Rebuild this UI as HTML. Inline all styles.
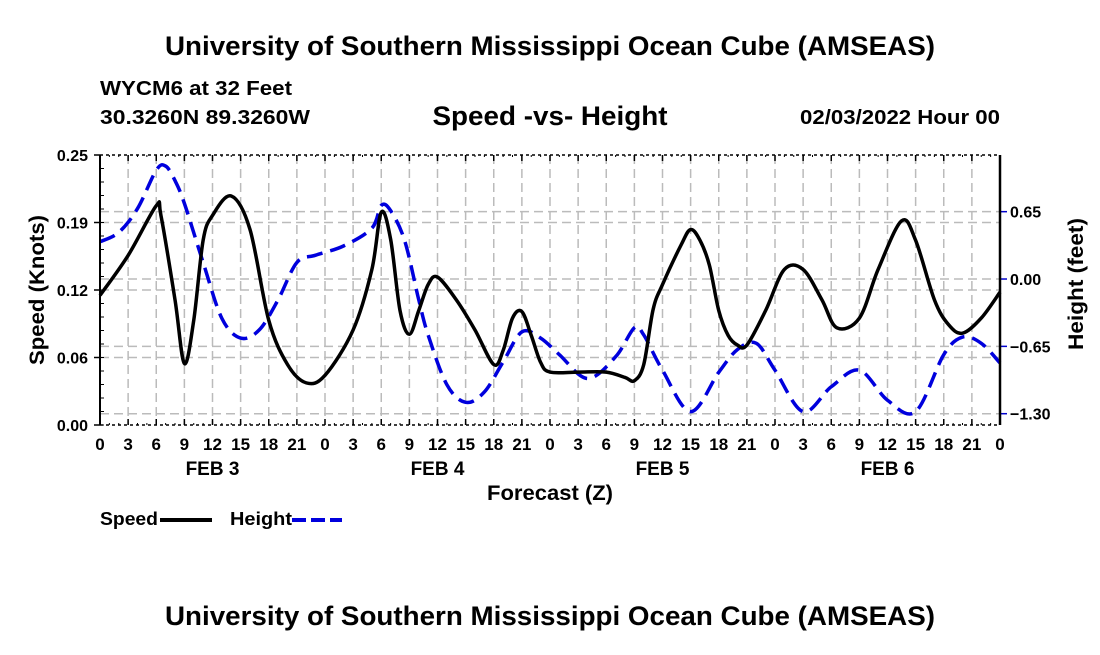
<!DOCTYPE html>
<html><head><meta charset="utf-8"><style>
body{margin:0;background:#fff}
svg text{font-family:"Liberation Sans",Arial,sans-serif;font-weight:bold;fill:#000}
</style></head><body>
<svg id="chart" width="1100" height="650" viewBox="0 0 1100 650" xmlns="http://www.w3.org/2000/svg">
<rect width="1100" height="650" fill="#fff"/>
<text x="550" y="55" font-size="27" text-anchor="middle" textLength="770" lengthAdjust="spacingAndGlyphs">University of Southern Mississippi Ocean Cube (AMSEAS)</text>
<text x="100" y="95" font-size="20" textLength="192" lengthAdjust="spacingAndGlyphs">WYCM6 at 32 Feet</text>
<text x="100" y="124" font-size="20" textLength="210" lengthAdjust="spacingAndGlyphs">30.3260N  89.3260W</text>
<text x="550" y="125" font-size="27" text-anchor="middle" textLength="235" lengthAdjust="spacingAndGlyphs">Speed -vs- Height</text>
<text x="1000" y="124" font-size="20" text-anchor="end" textLength="200" lengthAdjust="spacingAndGlyphs">02/03/2022 Hour 00</text>
<g id="grid"></g>
<g id="series"></g>
<g id="axes"></g>
<text transform="translate(44,290) rotate(-90)" font-size="21" text-anchor="middle" textLength="150" lengthAdjust="spacingAndGlyphs">Speed (Knots)</text>
<text transform="translate(1083,284) rotate(-90)" font-size="21" text-anchor="middle" textLength="132" lengthAdjust="spacingAndGlyphs">Height (feet)</text>
<text x="550" y="500" font-size="21" text-anchor="middle" textLength="126" lengthAdjust="spacingAndGlyphs">Forecast (Z)</text>
<g>
<text x="100" y="525" font-size="18" textLength="58" lengthAdjust="spacingAndGlyphs">Speed</text>
<line x1="160" y1="520" x2="212" y2="520" stroke="#000" stroke-width="4"/>
<text x="230" y="525" font-size="18" textLength="62" lengthAdjust="spacingAndGlyphs">Height</text>
<line x1="292" y1="520" x2="342" y2="520" stroke="#0000dd" stroke-width="4" stroke-dasharray="14,5"/>
</g>
<text x="550" y="625" font-size="27" text-anchor="middle" textLength="770" lengthAdjust="spacingAndGlyphs">University of Southern Mississippi Ocean Cube (AMSEAS)</text>
</svg>
<script>
// ---- data ----
const speedHours = [0,3,6,6.5,8,9,10,11,12,14,16,18,20,22,24,27,29,30,31,32,33,34,35,36,38,40,42,43,44,45,46,47,48,51,54,56,57,58,59,60,62,63,64,65,66,67,68,69,71,73,75,77,78.6,81,83,85.5,87,89,90.5,92,94,96];
const speedValues = [0.120,0.157,0.203,0.194,0.116,0.057,0.097,0.171,0.194,0.212,0.181,0.097,0.056,0.039,0.046,0.088,0.144,0.197,0.172,0.106,0.084,0.106,0.130,0.137,0.116,0.088,0.056,0.069,0.099,0.105,0.083,0.058,0.049,0.049,0.049,0.044,0.041,0.056,0.107,0.130,0.167,0.181,0.171,0.148,0.106,0.083,0.074,0.074,0.106,0.144,0.144,0.116,0.090,0.099,0.144,0.189,0.171,0.116,0.093,0.085,0.099,0.123];
const heightHours = [0,2,4,6,7,8,9,11,13,15,17,19,21,23,26,29,30,31,32.5,34,35,37,39,41,43,45,47,49,52,55,57,58,60,63,66,68,70,72,75,78,81,84,87,90,92,94,96];
const heightValues = [0.36,0.45,0.68,1.05,1.09,0.95,0.73,0.16,-0.38,-0.57,-0.49,-0.20,0.16,0.23,0.32,0.49,0.71,0.66,0.37,-0.20,-0.54,-1.02,-1.19,-1.09,-0.80,-0.51,-0.57,-0.73,-0.96,-0.75,-0.47,-0.54,-0.88,-1.28,-0.90,-0.68,-0.62,-0.88,-1.28,-1.04,-0.88,-1.17,-1.28,-0.73,-0.56,-0.62,-0.81];
const xTickLabels = ["0","3","6","9","12","15","18","21","0","3","6","9","12","15","18","21","0","3","6","9","12","15","18","21","0","3","6","9","12","15","18","21","0"];
const dayLabels = ["FEB 3","FEB 4","FEB 5","FEB 6"];
const speedTicks = [0,0.0625,0.125,0.1875,0.25];
const speedTickLabels = ["0.00","0.06","0.12","0.19","0.25"];
const heightTicks = [-1.30,-0.65,0.00,0.65];
const heightTickLabels = ["\u22121.30","\u22120.65","0.00","0.65"];

// ---- scales ----
const L=100,R=1000,T=155,B=425;
const xS=h=>L+(h/96)*(R-L);
const yS=v=>B-(v/0.25)*(B-T);
const hMin=-1.409,hMax=1.197;
const yH=v=>B-(v-hMin)/(hMax-hMin)*(B-T);
const NS="http://www.w3.org/2000/svg";
function mk(tag,attrs,parent){const e=document.createElementNS(NS,tag);for(const k in attrs)e.setAttribute(k,attrs[k]);parent.appendChild(e);return e;}
const grid=document.getElementById('grid'),axes=document.getElementById('axes'),series=document.getElementById('series');

xTickLabels.forEach((lab,i)=>{const x=xS(i*3);
 if(i>0&&i<32){const g=mk('line',{x1:x,y1:T,x2:x,y2:B,stroke:'#bbb','stroke-width':1.5,'stroke-dasharray':'9,5'},grid);
 
 }
 const t=mk('text',{x:x,y:450,'font-size':17,'text-anchor':'middle'},axes);t.textContent=lab;
 
 
 mk('line',{x1:x,y1:B,x2:x,y2:B-6,stroke:'#000','stroke-width':1.5},axes);
 mk('line',{x1:x,y1:T,x2:x,y2:T+6,stroke:'#000','stroke-width':1.5},axes);
});
dayLabels.forEach((d,i)=>{const t=mk('text',{x:xS(12+24*i),y:475,'font-size':19,'text-anchor':'middle'},axes);t.textContent=d;
 
 });
speedTicks.forEach((v,i)=>{const y=yS(v);
 if(i>0&&i<4){const g=mk('line',{x1:L,y1:y,x2:R,y2:y,stroke:'#bbb','stroke-width':1.5,'stroke-dasharray':'9,5'},grid);
 
 }
 mk('line',{x1:L-6,y1:y,x2:L,y2:y,stroke:'#000','stroke-width':1.5},axes);
 const t=mk('text',{x:L-12,y:y+6,'font-size':16,'text-anchor':'end'},axes);t.textContent=speedTickLabels[i];
 
 
});
for(let v=0;v<=0.25;v+=0.0125){mk('line',{x1:L,y1:yS(v),x2:L+4,y2:yS(v),stroke:'#000','stroke-width':1},axes);}
for(let h=0;h<=96;h+=1){mk('line',{x1:xS(h),y1:T,x2:xS(h),y2:T+2,stroke:'#000','stroke-width':1},axes);mk('line',{x1:xS(h),y1:B,x2:xS(h),y2:B-2,stroke:'#000','stroke-width':1},axes);}
heightTicks.forEach((v,i)=>{const y=yH(v);
 const g=mk('line',{x1:L,y1:y,x2:R,y2:y,stroke:'#bbb','stroke-width':1.5,'stroke-dasharray':'9,5'},grid);
 
 
 mk('line',{x1:R,y1:y,x2:R+7,y2:y,stroke:'#0000cc','stroke-width':1.5},axes);
 const t=mk('text',{x:1010,y:y+6,'font-size':16},axes);t.textContent=heightTickLabels[i];
 
 
});
mk('line',{x1:L,y1:T,x2:R,y2:T,stroke:'#000','stroke-width':1.5,'stroke-dasharray':'3,3'},axes);
mk('line',{x1:L,y1:B,x2:R,y2:B,stroke:'#000','stroke-width':1.5,'stroke-dasharray':'3,3'},axes);
mk('line',{x1:L,y1:T,x2:L,y2:B,stroke:'#000','stroke-width':2},axes);
mk('line',{x1:R,y1:T,x2:R,y2:B,stroke:'#000','stroke-width':2.5},axes);

function spline(pts){let d=`M${pts[0][0]},${pts[0][1]}`;
 for(let i=0;i<pts.length-1;i++){const p0=pts[Math.max(0,i-1)],p1=pts[i],p2=pts[i+1],p3=pts[Math.min(pts.length-1,i+2)];
 const c1=[p1[0]+(p2[0]-p0[0])/6,p1[1]+(p2[1]-p0[1])/6],c2=[p2[0]-(p3[0]-p1[0])/6,p2[1]-(p3[1]-p1[1])/6];
 d+=` C${c1[0]},${c1[1]} ${c2[0]},${c2[1]} ${p2[0]},${p2[1]}`;}return d;}
const hp=mk('path',{d:spline(heightHours.map((h,i)=>[xS(h),yH(heightValues[i])])),fill:'none',stroke:'#0000dd','stroke-width':3.5,'stroke-dasharray':'16,8'},series);


const sp=mk('path',{d:spline(speedHours.map((h,i)=>[xS(h),yS(speedValues[i])])),fill:'none',stroke:'#000','stroke-width':3.5,'stroke-linejoin':'round'},series);


</script>
</body></html>
